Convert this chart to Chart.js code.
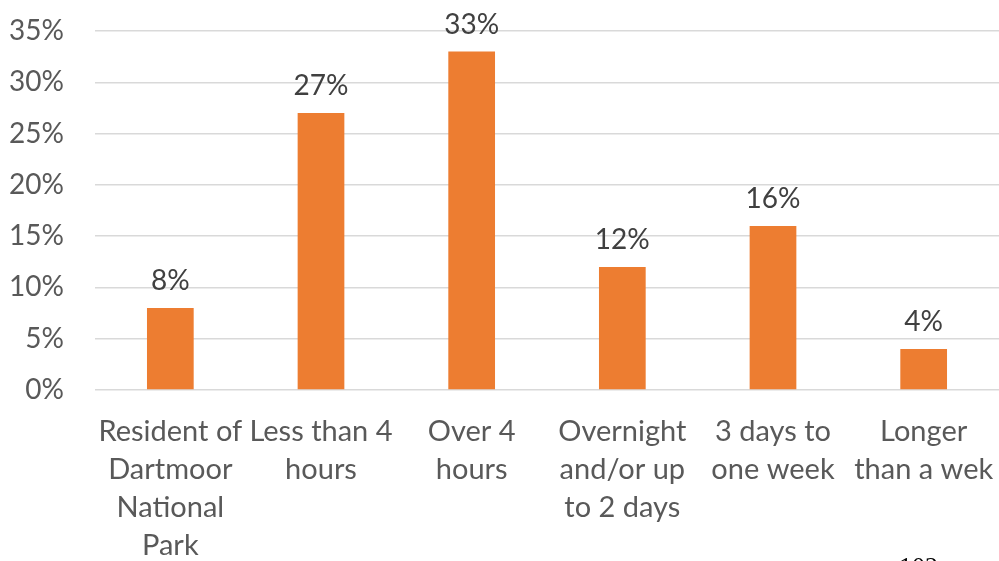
<!DOCTYPE html>
<html>
<head>
<meta charset="utf-8">
<script src="https://cdn.jsdelivr.net/npm/chart.js@4/dist/chart.umd.min.js"></script>
<style>
  html, body { margin: 0; padding: 0; background: #fff; }
  #wrap { position: relative; width: 999px; height: 561px; overflow: hidden; }
  #pageNo { position: absolute; left: 899px; top: 552px; font: 26px "Liberation Serif", serif; color: #000; }
</style>
</head>
<body>
<div id="wrap">
  <canvas id="myChart" width="999" height="561"></canvas>
  <div id="pageNo">102</div>
</div>
<script>
// Length of stay categories (wrapped over several lines)
var categories = [
  ["Resident of", "Dartmoor", "National", "Park"],
  ["Less than 4", "hours"],
  ["Over 4", "hours"],
  ["Overnight", "and/or up", "to 2 days"],
  ["3 days to", "one week"],
  ["Longer", "than a wek"]
];

// Share of respondents, in percent
var shares = [8, 27, 33, 12, 16, 4];

// Y axis ticks
var yTicks = [0, 5, 10, 15, 20, 25, 30, 35];

var FONT = "Lato, 'Open Sans', sans-serif";

// Draws the value over each bar
var valueLabels = {
  id: "valueLabels",
  afterDatasetsDraw: function (chart) {
    var ctx = chart.ctx;
    var meta = chart.getDatasetMeta(0);
    ctx.save();
    ctx.font = "28px " + FONT;
    ctx.fillStyle = "#404040";
    ctx.textAlign = "center";
    ctx.textBaseline = "middle";
    meta.data.forEach(function (bar, i) {
      ctx.fillText(shares[i] + "%", bar.x, bar.y - 27);
    });
    ctx.restore();
  }
};

var ctx = document.getElementById("myChart").getContext("2d");

var myChart = new Chart(ctx, {
  type: "bar",
  data: {
    labels: categories,
    datasets: [
      {
        data: shares,
        backgroundColor: "#ED7D31",
        borderWidth: 0,
        barPercentage: 0.62,
        categoryPercentage: 0.5
      }
    ]
  },
  options: {
    responsive: false,
    animation: false,
    layout: { padding: { top: 31, right: 0, left: 0, bottom: 0 } },
    plugins: {
      legend: { display: false },
      tooltip: { enabled: false }
    },
    scales: {
      x: {
        grid: { display: false, drawTicks: false },
        border: { display: false },
        ticks: {
          color: "#595959",
          font: { family: FONT, size: 29, lineHeight: 1.31 },
          padding: 23,
          maxRotation: 0,
          autoSkip: false
        },
        afterFit: function (scale) {
          scale.height = 171;
          scale.paddingLeft = 0;
          scale.paddingRight = 0;
        }
      },
      y: {
        min: 0,
        max: 35,
        afterBuildTicks: function (scale) {
          scale.ticks = yTicks.map(function (v) { return { value: v }; });
        },
        grid: { color: "#d9d9d9", lineWidth: 1.5, drawTicks: false },
        border: { display: false },
        ticks: {
          color: "#595959",
          font: { family: FONT, size: 28 },
          padding: 31,
          callback: function (v) { return v + "%"; }
        },
        afterFit: function (scale) {
          scale.width = 95;
          scale.paddingTop = 0;
          scale.paddingBottom = 0;
        }
      }
    }
  },
  plugins: [valueLabels]
});
</script>
</body>
</html>
